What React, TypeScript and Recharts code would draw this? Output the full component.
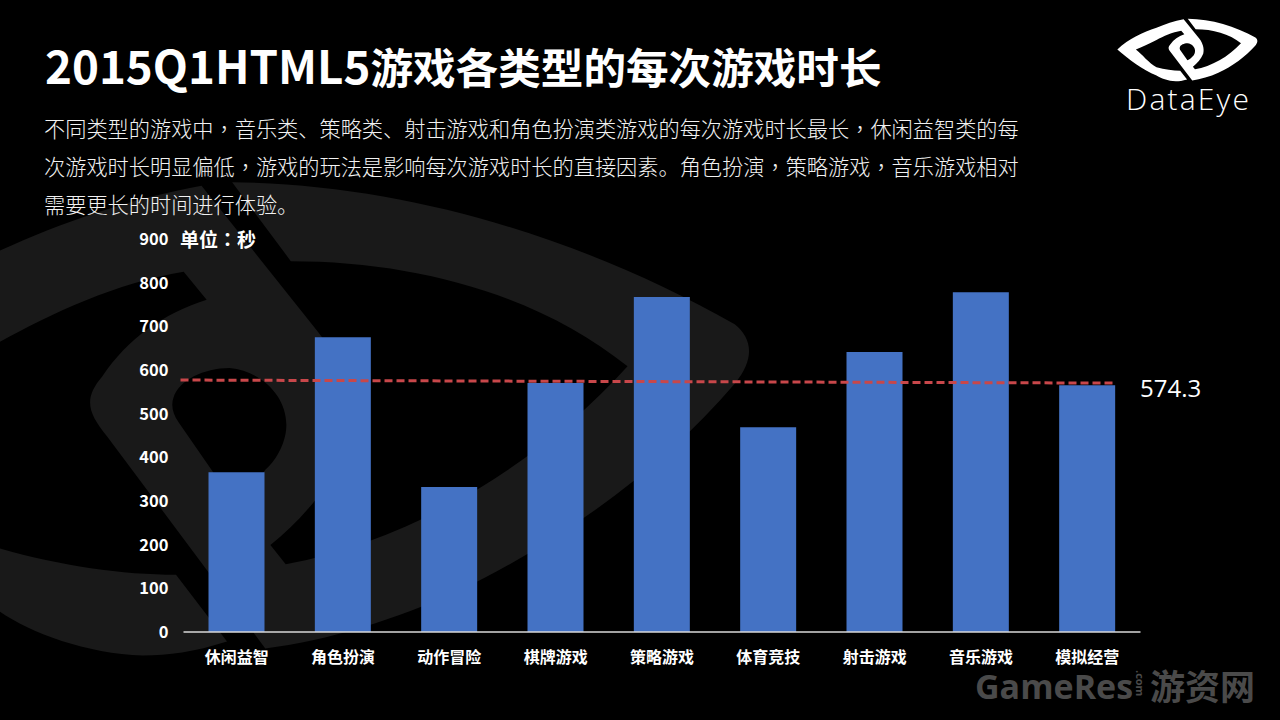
import React from "react";
import { BarChart, Bar, XAxis, YAxis, ReferenceLine } from "recharts";

const categories = ["休闲益智", "角色扮演", "动作冒险", "棋牌游戏", "策略游戏", "体育竞技", "射击游戏", "音乐游戏", "模拟经营"];
const durations = [366, 675, 332, 570, 767, 469, 641, 778, 565];
const yTicks = [0, 100, 200, 300, 400, 500, 600, 700, 800, 900];
const trendPosition = [-0.025, 7.79];
const trendValue = [577, 570];
const averageLabel = "574.3";
const titleLatin = "2015Q1HTML5";
const titleCjk = "游戏各类型的每次游戏时长";
const bodyLines = [
  "不同类型的游戏中，音乐类、策略类、射击游戏和角色扮演类游戏的每次游戏时长最长，休闲益智类的每",
  "次游戏时长明显偏低，游戏的玩法是影响每次游戏时长的直接因素。角色扮演，策略游戏，音乐游戏相对",
  "需要更长的时间进行体验。",
];
const unitLabel = ["单位", "：", "秒"];

const rows = categories.map((name, i) => ({ name, value: durations[i] }));

const SC = '"Noto Sans CJK SC", sans-serif';
const TC = '"Noto Sans CJK TC", sans-serif';
const OPEN = '"Open Sans", sans-serif';

const EYE =
  "M395,45 L625,465 C670,550 700,680 680,790 C650,900 590,1000 530,1070 L560,1125 C800,1060 1050,850 1230,560 C1060,360 820,260 570,260 L455,35 C800,40 1150,200 1440,440 C1475,480 1480,540 1440,610 C1300,850 1100,1060 900,1200 C780,1280 640,1345 520,1365 L210,760 C170,690 165,650 200,590 C250,480 320,410 405,370 L360,290 C230,320 100,410 0,490 C-110,570 -210,640 -300,700 C-210,800 -110,1000 0,1080 C120,1130 240,1155 345,1155 L445,1345 C380,1375 330,1385 280,1385 C170,1380 60,1320 0,1260 C-200,1140 -400,920 -570,700 C-400,460 -200,330 0,230 C120,150 260,80 395,45 Z " +
  "M340,650 C350,600 400,565 450,565 C520,575 570,660 560,750 C555,790 540,830 520,855 C500,900 470,920 450,930 L350,720 C338,695 335,670 340,650 Z";

function renderLine(line: string) {
  return line.split(/(，)/).map((part, i) =>
    part === "，" ? (
      <span key={i} style={{ fontFamily: TC }}>{part}</span>
    ) : (
      <span key={i}>{part}</span>
    )
  );
}

const abs = (left: number, top: number): React.CSSProperties => ({
  position: "absolute",
  left,
  top,
  whiteSpace: "nowrap",
  margin: 0,
});

export default function App() {
  return (
    <div style={{ position: "fixed", left: 0, top: 0, width: 1280, height: 720, background: "#000", overflow: "hidden", fontFamily: SC }}>
      <svg width={1280} height={720} style={{ position: "absolute", left: 0, top: 0 }}>
        <path d={EYE} fill="#191919" fillRule="evenodd" transform="matrix(0.5102,0,0,0.3505,0,170)" />
        <path d={EYE} fill="#ffffff" fillRule="evenodd" transform="matrix(0.0687,0,0,0.0463,1156.5,17.2)" />
      </svg>

      <div style={{ ...abs(45, 34), color: "#fff", fontSize: 42.6, fontWeight: 700, lineHeight: "60px" }}>
        <span style={{ fontSize: 45.7 }}>{titleLatin}</span>
        {titleCjk}
      </div>

      {bodyLines.map((line, i) => (
        <div key={i} style={{ ...abs(44, 109 + i * 38), color: "#f2f2f2", fontSize: 21.2, lineHeight: "38px", fontWeight: 300 }}>
          {renderLine(line)}
        </div>
      ))}

      <div style={{ position: "absolute", left: 0, top: 0 }}>
        <BarChart width={1280} height={720} data={rows} margin={{ top: 239, right: 139.5, bottom: 0, left: 123.5 }}>
          <XAxis
            dataKey="name"
            height={88}
            interval={0}
            tickLine={false}
            tickSize={0}
            tickMargin={20}
            axisLine={{ stroke: "#d9d9d9", strokeWidth: 1.5 }}
            tick={{ fill: "#fff", fontSize: 16, fontWeight: 700, fontFamily: SC }}
          />
          <XAxis xAxisId="trend" type="number" domain={[0, 8]} hide />
          <YAxis
            width={60}
            domain={[0, 900]}
            ticks={yTicks}
            interval={0}
            axisLine={false}
            tickLine={false}
            tickSize={0}
            tickMargin={15}
            tick={{ fill: "#fff", fontSize: 16.5, fontWeight: 700, fontFamily: SC }}
          />
          <Bar dataKey="value" fill="#4472C4" barSize={56} isAnimationActive={false} />
          <ReferenceLine
            xAxisId="trend"
            ifOverflow="visible"
            segment={[
              { x: trendPosition[0], y: trendValue[0] },
              { x: trendPosition[1], y: trendValue[1] },
            ]}
            stroke="#C8474A"
            strokeWidth={3}
            strokeDasharray="8 4"
          />
        </BarChart>
      </div>

      <div style={{ ...abs(180, 226), color: "#fff", fontSize: 19, fontWeight: 700, lineHeight: "26px" }}>
        {unitLabel[0]}
        <span style={{ fontFamily: TC }}>{unitLabel[1]}</span>
        {unitLabel[2]}
      </div>

      <div style={{ ...abs(1140, 372), color: "#fff", fontSize: 24, lineHeight: "32px", fontFamily: OPEN }}>{averageLabel}</div>

      <div style={{ ...abs(1126, 80), color: "#fff", fontSize: 30, lineHeight: "38px", fontWeight: 300, letterSpacing: 2.2, fontFamily: OPEN }}>DataEye</div>

      <div style={{ ...abs(975, 674), color: "#4a4a4a", fontSize: 34, lineHeight: "24px", fontWeight: 700, fontFamily: OPEN }}>GameRes</div>
      <div style={{ ...abs(1134, 670), color: "#4a4a4a", fontSize: 11, lineHeight: "13px", fontWeight: 700, fontFamily: OPEN, writingMode: "vertical-rl" }}>.com</div>
      <div style={{ ...abs(1150, 672), color: "#4a4a4a", fontSize: 35, lineHeight: "26px", fontWeight: 700 }}>游资网</div>
    </div>
  );
}
